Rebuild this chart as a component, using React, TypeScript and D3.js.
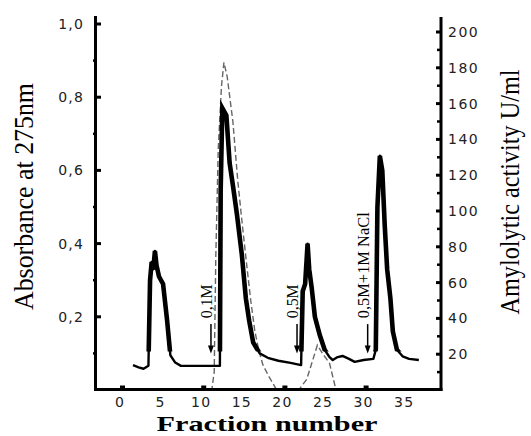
import React from "react";
import * as d3 from "d3";

// ---- data ----
const fractionTicks = [0, 5, 10, 15, 20, 25, 30, 35];
const fractionMinorTicks = [0, 10, 20, 30];
const absorbanceTicks = [0.2, 0.4, 0.6, 0.8, 1.0];
const absorbanceMinor = [0.1, 0.3, 0.5, 0.7, 0.9];
const activityTicks = [20, 40, 60, 80, 100, 120, 140, 160, 180, 200];
const activityMinor = [10, 30, 50, 70, 90, 110, 130, 150, 170, 190];

const absFraction = [
  1.6, 2.3, 2.9, 3.5, 3.7, 3.9, 4.1, 4.3, 4.5, 4.8, 5.3, 5.8, 6.2, 6.8, 7.5, 9.5,
  12.3, 12.4, 12.6, 13.1, 13.5, 13.9, 14.4, 15.0, 15.5, 15.9, 16.4, 17.2, 18.2, 19.5, 21.0, 22.3,
  22.5, 22.8, 23.1, 23.3, 23.6, 24.0, 24.6, 25.2, 25.8, 26.2, 26.8, 27.4, 28.2, 28.9, 30.0, 31.2,
  31.5, 31.7, 32.0, 32.3, 32.6, 32.9, 33.3, 33.6, 34.1, 34.8, 35.6, 36.8,
];
const absValue = [
  0.068, 0.062, 0.058, 0.066, 0.3, 0.35, 0.33, 0.38, 0.34, 0.31, 0.29, 0.19, 0.095, 0.075, 0.066, 0.066,
  0.066, 0.55, 0.77, 0.75, 0.62, 0.56, 0.48, 0.37, 0.25, 0.19, 0.13, 0.1, 0.088, 0.08, 0.074, 0.068,
  0.27, 0.29, 0.4, 0.33, 0.28, 0.2, 0.15, 0.11, 0.09, 0.082, 0.09, 0.093, 0.085, 0.077, 0.082, 0.085,
  0.11, 0.5, 0.64, 0.6, 0.45, 0.33, 0.25, 0.16, 0.11, 0.092, 0.085, 0.082,
];

const actFraction = [
  0, 11.3, 11.6, 11.8, 12.1, 12.5, 12.8, 13.2, 13.9, 14.5, 15.0, 15.6, 16.1, 16.6, 17.1, 17.6, 18.4, 19.3,
  22.0, 23.0, 24.3, 25.0, 25.8, 26.6, 39.3,
];
const actValue = [
  0, 0, 10, 75, 135, 170, 183, 175, 150, 117, 95, 70, 50, 33, 22, 14, 7, 0,
  0, 6, 25, 20, 15, 0, 0,
];

const arrowFractions = [11.2, 21.8, 30.5];
const arrowLabels = ["0,1M", "0,5M", "0,5M+1M NaCl"];
const arrowLabelLengths = [34, 34, 106];

// ---- layout ----
const W = 531;
const H = 436;

export default function App() {
  const x = d3.scaleLinear().domain([-3.08, 39.53]).range([95, 441]);
  const yL = d3.scaleLinear().domain([0, 1]).range([390, 24]);
  const yR = d3.scaleLinear().domain([0, 200]).range([390, 32]);

  const absPts = absFraction.map((f, i) => [f, absValue[i]] as [number, number]);
  const actPts = actFraction.map((f, i) => [f, actValue[i]] as [number, number]);

  const absLine = d3
    .line<[number, number]>()
    .x((d) => x(d[0]))
    .y((d) => yL(d[1]));
  const actLine = d3
    .line<[number, number]>()
    .x((d) => x(d[0]))
    .y((d) => yR(d[1]));

  const fmt = (v: number) => d3.format(".1f")(v).replace(".", ",");
  const tickFont = "'DejaVu Sans', sans-serif";
  const serif = "'Liberation Serif', 'Times New Roman', serif";

  const clipY = yL(0.105);

  return (
    <svg width={W} height={H} style={{ position: "absolute", left: 0, top: 0, background: "#fff" }}>
      <defs>
        <clipPath id="peakClip">
          <rect x={0} y={0} width={W} height={clipY} />
        </clipPath>
      </defs>

      {/* activity (dashed gray) */}
      <path d={actLine(actPts) || ""} fill="none" stroke="#666" strokeWidth={1.4} strokeDasharray="6,3" />

      {/* absorbance (black) */}
      <path d={absLine(absPts) || ""} fill="none" stroke="#000" strokeWidth={2.4} strokeLinejoin="round" />
      <path d={absLine(absPts) || ""} fill="none" stroke="#000" strokeWidth={4.6} strokeLinejoin="miter" clipPath="url(#peakClip)" />

      {/* axes */}
      <line x1={95.5} x2={95.5} y1={16} y2={391} stroke="#000" strokeWidth={3} />
      <line x1={441} x2={441} y1={17} y2={391} stroke="#000" strokeWidth={3} />
      <line x1={94} x2={442.5} y1={389.5} y2={389.5} stroke="#000" strokeWidth={3} />

      {/* left ticks */}
      {absorbanceTicks.map((t) => (
        <g key={"lt" + t}>
          <line x1={96} x2={101} y1={yL(t)} y2={yL(t)} stroke="#000" strokeWidth={3} />
          <text x={84} y={yL(t)} dy="0.35em" textAnchor="end" fontFamily={tickFont} fontSize={14} letterSpacing={1.2} fill="#222">
            {fmt(t)}
          </text>
        </g>
      ))}
      {absorbanceMinor.map((t) => (
        <line key={"lm" + t} x1={93} x2={96} y1={yL(t)} y2={yL(t)} stroke="#000" strokeWidth={2.5} />
      ))}

      {/* right ticks */}
      {activityTicks.map((t) => (
        <g key={"rt" + t}>
          <line x1={436} x2={441} y1={yR(t)} y2={yR(t)} stroke="#000" strokeWidth={3} />
          <text x={448} y={yR(t)} dy="0.35em" textAnchor="start" fontFamily={tickFont} fontSize={14} letterSpacing={1.5} fill="#222">
            {t}
          </text>
        </g>
      ))}
      {activityMinor.map((t) => (
        <line key={"rm" + t} x1={437} x2={441} y1={yR(t)} y2={yR(t)} stroke="#000" strokeWidth={2.5} />
      ))}

      {/* x ticks */}
      {fractionMinorTicks.map((t) => (
        <line key={"xm" + t} x1={x(t)} x2={x(t) + 5} y1={387} y2={387} stroke="#000" strokeWidth={3} />
      ))}
      {fractionTicks.map((t) => (
        <text key={"xt" + t} x={x(t)} y={407} textAnchor="middle" fontFamily={tickFont} fontSize={14} letterSpacing={1.2} fill="#222">
          {t}
        </text>
      ))}

      {/* arrows + labels */}
      {arrowFractions.map((f, i) => {
        const ax = x(f);
        const tip = yL(0.1);
        return (
          <g key={"ar" + i}>
            <line x1={ax} x2={ax} y1={yL(0.18)} y2={tip - 6} stroke="#000" strokeWidth={1.5} />
            <path d={`M${ax - 3},${tip - 8} L${ax + 3},${tip - 8} L${ax},${tip} Z`} fill="#000" />
            <text
              transform={`translate(${ax + 1},${yL(0.196)}) rotate(-90)`}
              textAnchor="start"
              fontFamily={serif}
              fontSize={16}
              textLength={arrowLabelLengths[i]}
              lengthAdjust="spacingAndGlyphs"
              fill="#000"
            >
              {arrowLabels[i]}
            </text>
          </g>
        );
      })}

      {/* axis titles */}
      <text
        transform="translate(33,196.5) rotate(-90)"
        textAnchor="middle"
        fontFamily={serif}
        fontSize={28}
        textLength={227}
        lengthAdjust="spacingAndGlyphs"
        fill="#000"
      >
        Absorbance at 275nm
      </text>
      <text
        transform="translate(519,192) rotate(-90)"
        textAnchor="middle"
        fontFamily={serif}
        fontSize={27}
        textLength={245}
        lengthAdjust="spacingAndGlyphs"
        fill="#000"
      >
        Amylolytic activity U/ml
      </text>
      <text
        x={267}
        y={431}
        textAnchor="middle"
        fontFamily={serif}
        fontWeight="bold"
        fontSize={22}
        textLength={221}
        lengthAdjust="spacingAndGlyphs"
        fill="#000"
      >
        Fraction number
      </text>
    </svg>
  );
}
